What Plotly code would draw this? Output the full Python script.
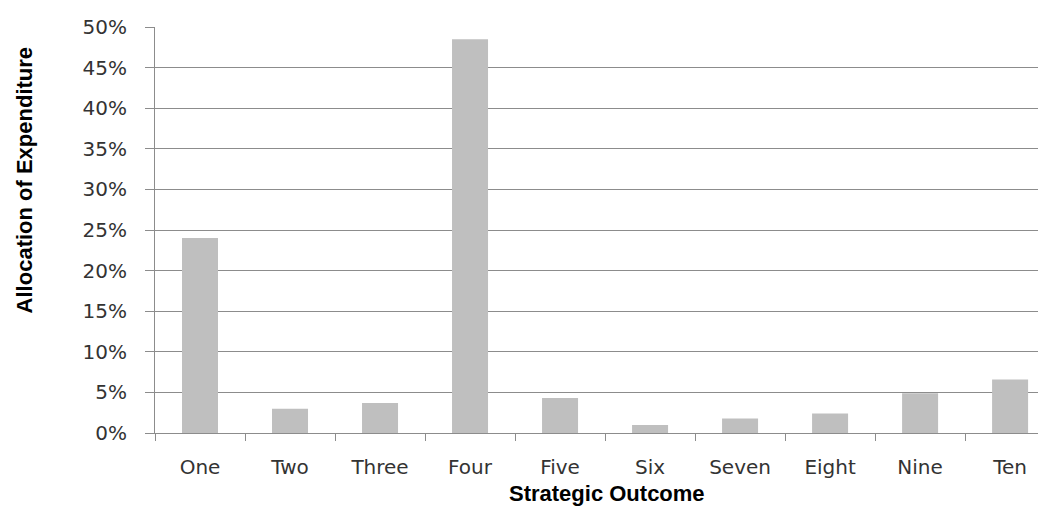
import plotly.graph_objects as go

categories = ["One", "Two", "Three", "Four", "Five", "Six", "Seven", "Eight", "Nine", "Ten"]
allocation = [0.240, 0.030, 0.037, 0.485, 0.043, 0.010, 0.018, 0.024, 0.049, 0.066]
y_ticks = [0, 0.05, 0.10, 0.15, 0.20, 0.25, 0.30, 0.35, 0.40, 0.45, 0.50]

fig = go.Figure(go.Bar(
    x=categories, y=allocation,
    marker=dict(color="#bfbfbf", line=dict(width=0)),
    width=0.4,
))

fig.update_layout(
    width=1038, height=509,
    margin=dict(l=155, r=0, t=27, b=76),
    paper_bgcolor="white", plot_bgcolor="white",
    showlegend=False,
    font=dict(family="DejaVu Sans", color="#333333"),
)
fig.update_xaxes(
    range=[-0.5, 9.31],
    showline=True, linecolor="#8c8c8c", linewidth=1,
    ticks="outside", tickson="boundaries", ticklen=7, tickcolor="#8c8c8c",
    tickfont=dict(size=20, family="DejaVu Sans", color="#333333"),
    ticklabelstandoff=16,
    showgrid=False,
)
fig.update_yaxes(
    range=[0, 0.5], tickvals=y_ticks, tickformat=".0%",
    showline=True, linecolor="#8c8c8c", linewidth=1,
    ticks="outside", ticklen=9, tickcolor="#8c8c8c",
    showgrid=True, gridcolor="#8c8c8c", gridwidth=1,
    tickfont=dict(size=20, family="DejaVu Sans", color="#333333"),
    ticklabelstandoff=14,
    zeroline=False,
)
fig.add_annotation(
    text="<b>Allocation of Expenditure</b>", textangle=-90,
    xref="paper", yref="paper", x=-0.148, y=0.623,
    xanchor="center", yanchor="middle", showarrow=False,
    font=dict(size=22, family="Liberation Sans Narrow, Liberation Sans", color="black"),
)
fig.add_annotation(
    text="<b>Strategic Outcome</b>",
    xref="paper", yref="paper", x=0.512, y=-0.185,
    xanchor="center", yanchor="bottom", showarrow=False,
    font=dict(size=22, family="Liberation Sans, Arial", color="black"),
)

fig.write_html("out.html")
